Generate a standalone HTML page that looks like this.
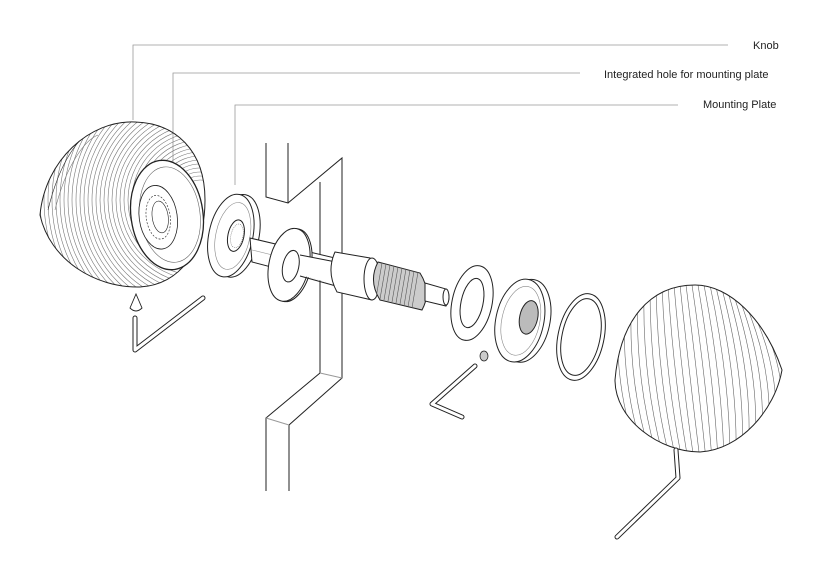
<!DOCTYPE html>
<html><head><meta charset="utf-8"><style>
html,body{margin:0;padding:0;background:#fff;}
svg{display:block;}
text{font-family:"Liberation Sans",Arial,sans-serif;font-size:11px;fill:#222;}
</style></head><body>
<svg width="818" height="579" viewBox="0 0 818 579" xmlns="http://www.w3.org/2000/svg">
<defs>
<clipPath id="kl"><path d="M40,215 C45,160 90,120 135,122 C175,123 205,150 205,200 C205,250 180,285 140,287 C95,288 50,260 40,215 Z"/></clipPath>
<clipPath id="kr"><path d="M615,380 C620,320 650,285 695,285 C730,285 765,320 782,370 C775,410 740,450 700,452 C660,452 615,420 615,380 Z"/></clipPath>
</defs>
<!-- leaders -->
<g stroke="#999" stroke-width="0.8" fill="none">
<polyline points="133,120 133,45 728,45"/>
<polyline points="173,180 173,73 580,73"/>
<polyline points="235,185 235,105 678,105"/>
</g>
<text x="753" y="49">Knob</text>
<text x="604" y="78">Integrated hole for mounting plate</text>
<text x="703" y="108">Mounting Plate</text>

<!-- wall -->
<g stroke="#222" stroke-width="1" fill="none">
<polyline points="266,143 266,197 288,203 288,143"/>
<polyline points="288,203 342,158 342,378 289,425 289,491"/>
<polyline points="320,182 320,373 266,418 266,491"/>
<line x1="266" y1="418" x2="289" y2="425" stroke="#999"/>
<line x1="320" y1="373" x2="342" y2="378" stroke="#999"/>
</g>

<!-- left knob -->
<g clip-path="url(#kl)" stroke="#777" stroke-width="0.6" fill="none">
<g id="rings">
<circle cx="200" cy="200" r="20"/><circle cx="200" cy="200" r="24"/><circle cx="200" cy="200" r="28"/><circle cx="200" cy="200" r="32"/><circle cx="200" cy="200" r="36"/><circle cx="200" cy="200" r="40"/><circle cx="200" cy="200" r="44"/><circle cx="200" cy="200" r="48"/><circle cx="200" cy="200" r="52"/><circle cx="200" cy="200" r="56"/><circle cx="200" cy="200" r="60"/><circle cx="200" cy="200" r="64"/><circle cx="200" cy="200" r="68"/><circle cx="200" cy="200" r="72"/><circle cx="200" cy="200" r="76"/><circle cx="200" cy="200" r="80"/><circle cx="200" cy="200" r="84"/><circle cx="200" cy="200" r="88"/><circle cx="200" cy="200" r="92"/><circle cx="200" cy="200" r="96"/><circle cx="200" cy="200" r="100"/><circle cx="200" cy="200" r="104"/><circle cx="200" cy="200" r="108"/><circle cx="200" cy="200" r="112"/><circle cx="200" cy="200" r="116"/><circle cx="200" cy="200" r="120"/><circle cx="200" cy="200" r="124"/><circle cx="200" cy="200" r="128"/><circle cx="200" cy="200" r="132"/><circle cx="200" cy="200" r="136"/><circle cx="200" cy="200" r="140"/><circle cx="200" cy="200" r="144"/><circle cx="200" cy="200" r="148"/><circle cx="200" cy="200" r="152"/><circle cx="200" cy="200" r="156"/><circle cx="200" cy="200" r="160"/><circle cx="200" cy="200" r="164"/>
</g>
<path d="M48,210 C60,160 80,135 95,130" stroke="#222"/>
<path d="M55,210 C66,165 85,140 98,135"/>
</g>
<path d="M40,215 C45,160 90,120 135,122 C175,123 205,150 205,200 C205,250 180,285 140,287 C95,288 50,260 40,215 Z" fill="none" stroke="#222" stroke-width="1"/>
<g transform="rotate(-8 167 215)" stroke="#222" fill="#fff">
<ellipse cx="167" cy="215" rx="36" ry="55" stroke-width="1.3"/>
<ellipse cx="170" cy="215" rx="30" ry="48" stroke-width="0.6" stroke="#666"/>
<ellipse cx="158" cy="216" rx="19" ry="32" stroke-width="0.8"/>
<ellipse cx="158" cy="216" rx="12" ry="22" stroke-width="0.6" stroke-dasharray="2 1.5"/>
<ellipse cx="160" cy="216" rx="8" ry="16" stroke-width="0.6"/>
</g>
<!-- cone + key left -->
<path d="M130,308 L136,294 L142,308 Q136,314 130,308 Z" fill="#fff" stroke="#222" stroke-width="0.9"/>
<g fill="none" stroke-linecap="round" stroke-linejoin="round">
<polyline points="135,318 135,350 203,298" stroke="#222" stroke-width="5"/>
<polyline points="135,318 135,350 203,298" stroke="#fff" stroke-width="3"/>
</g>

<!-- mounting plate -->
<g transform="rotate(12 233 235)" stroke="#222" fill="#fff" stroke-width="1">
<ellipse cx="237" cy="235" rx="22" ry="42"/>
<ellipse cx="231" cy="236" rx="22" ry="42"/>
<ellipse cx="233" cy="236" rx="17" ry="34" stroke="#888" stroke-width="0.6"/>
<ellipse cx="236" cy="235" rx="8" ry="16"/>
<ellipse cx="237" cy="235" rx="6" ry="12" stroke="#555" stroke-width="0.5" stroke-dasharray="1 1"/>
</g>
<!-- shaft -->
<g stroke="#222" stroke-width="1" fill="#fff">
<path d="M250,238 L335,258 L340,285 L252,262 Z"/>
<line x1="252" y1="250" x2="338" y2="271" stroke="#999" stroke-width="0.6"/>
</g>
<!-- washer 2 -->
<g transform="rotate(12 290 265)" stroke="#222" fill="#fff">
<ellipse cx="291" cy="265" rx="20" ry="37"/>
<ellipse cx="289" cy="265" rx="20" ry="37"/>
<ellipse cx="291" cy="266" rx="8" ry="16"/>
</g>
<g stroke="#222" stroke-width="1" fill="#fff">
<path d="M300,255 L335,262 L337,285 L300,275 Z" stroke="none"/>
<line x1="300" y1="255" x2="336" y2="262"/>
<line x1="300" y1="276" x2="336" y2="286"/>
<!-- collar -->
<path d="M335,252 L370,258 Q382,280 372,300 L337,292 Q326,272 335,252 Z"/>
<ellipse cx="372" cy="279" rx="8" ry="21"/>
<!-- thread -->
<path d="M378,262 L420,273 Q432,292 422,310 L380,300 Q368,281 378,262 Z" fill="#ccc"/>
<!-- end -->
<path d="M425,283 L446,289 Q452,297 446,306 L425,301 Z"/>
<ellipse cx="446" cy="297" rx="3" ry="8"/>
</g>
<g stroke="#555" stroke-width="0.6">
<line x1="382" y1="263" x2="376" y2="298"/><line x1="386" y1="264" x2="380" y2="299"/><line x1="390" y1="265" x2="384" y2="300"/><line x1="394" y1="266" x2="388" y2="301"/><line x1="398" y1="267" x2="392" y2="302"/><line x1="402" y1="268" x2="396" y2="303"/><line x1="406" y1="269" x2="400" y2="304"/><line x1="410" y1="270" x2="404" y2="306"/><line x1="414" y1="271" x2="408" y2="307"/><line x1="418" y1="272" x2="412" y2="308"/>
</g>

<!-- right washer -->
<g transform="rotate(12 472 303)" stroke="#222" fill="none">
<ellipse cx="472" cy="303" rx="20" ry="38"/>
<ellipse cx="472" cy="303" rx="11" ry="25"/>
</g>
<!-- nut -->
<g transform="rotate(12 522 320)" stroke="#222" fill="#fff">
<ellipse cx="526" cy="320" rx="24" ry="42"/>
<ellipse cx="520" cy="321" rx="24" ry="42"/>
<ellipse cx="521" cy="321" rx="19" ry="35" stroke="#888" stroke-width="0.6"/>
<ellipse cx="528" cy="316" rx="9" ry="17" fill="#bbb"/>
</g>
<!-- o-ring -->
<g transform="rotate(12 581 337)" stroke="#222" fill="none">
<ellipse cx="581" cy="337" rx="23" ry="44"/>
<ellipse cx="581" cy="337" rx="19" ry="39"/>
</g>
<!-- set screw + key -->
<ellipse cx="484" cy="356" rx="4" ry="5" fill="#ccc" stroke="#222" stroke-width="0.8"/>
<g fill="none" stroke-linecap="round" stroke-linejoin="round">
<polyline points="475,366 432,404 462,417" stroke="#222" stroke-width="5"/>
<polyline points="475,366 432,404 462,417" stroke="#fff" stroke-width="3"/>
</g>

<!-- right knob -->
<path d="M615,380 C620,320 650,285 695,285 C730,285 765,320 782,370 C775,410 740,450 700,452 C660,452 615,420 615,380 Z" fill="#fff"/>
<g clip-path="url(#kr)" stroke="#666" stroke-width="0.6" fill="none">
<path d="M620,290 Q610,380 640,460"/><path d="M626,290 Q618,380 646,460"/><path d="M632,290 Q626,380 652,460"/><path d="M638,290 Q634,380 658,460"/><path d="M644,290 Q642,380 664,460"/><path d="M650,290 Q650,380 670,460"/><path d="M656,288 Q658,380 676,460"/><path d="M662,287 Q666,380 682,460"/><path d="M668,286 Q674,380 688,460"/><path d="M674,285 Q682,380 694,460"/><path d="M680,285 Q690,380 700,460"/><path d="M686,285 Q698,380 706,460"/><path d="M692,285 Q706,380 712,460"/><path d="M698,285 Q714,380 718,460"/><path d="M704,285 Q722,380 724,460"/><path d="M710,285 Q730,380 730,460"/><path d="M716,287 Q738,380 736,460"/><path d="M722,289 Q746,380 742,460"/><path d="M728,292 Q754,380 748,460"/><path d="M734,296 Q762,380 754,460"/><path d="M740,300 Q770,380 760,460"/><path d="M746,305 Q778,380 766,460"/><path d="M752,310 Q786,380 772,460"/><path d="M758,315 Q794,380 778,460"/><path d="M764,322 Q800,380 784,460"/>
</g>
<path d="M615,380 C620,320 650,285 695,285 C730,285 765,320 782,370 C775,410 740,450 700,452 C660,452 615,420 615,380 Z" fill="none" stroke="#222" stroke-width="1"/>
<g fill="none" stroke-linecap="round" stroke-linejoin="round">
<polyline points="676,450 678,478 617,537" stroke="#222" stroke-width="5"/>
<polyline points="676,450 678,478 617,537" stroke="#fff" stroke-width="3"/>
</g>
</svg>
</body></html>
